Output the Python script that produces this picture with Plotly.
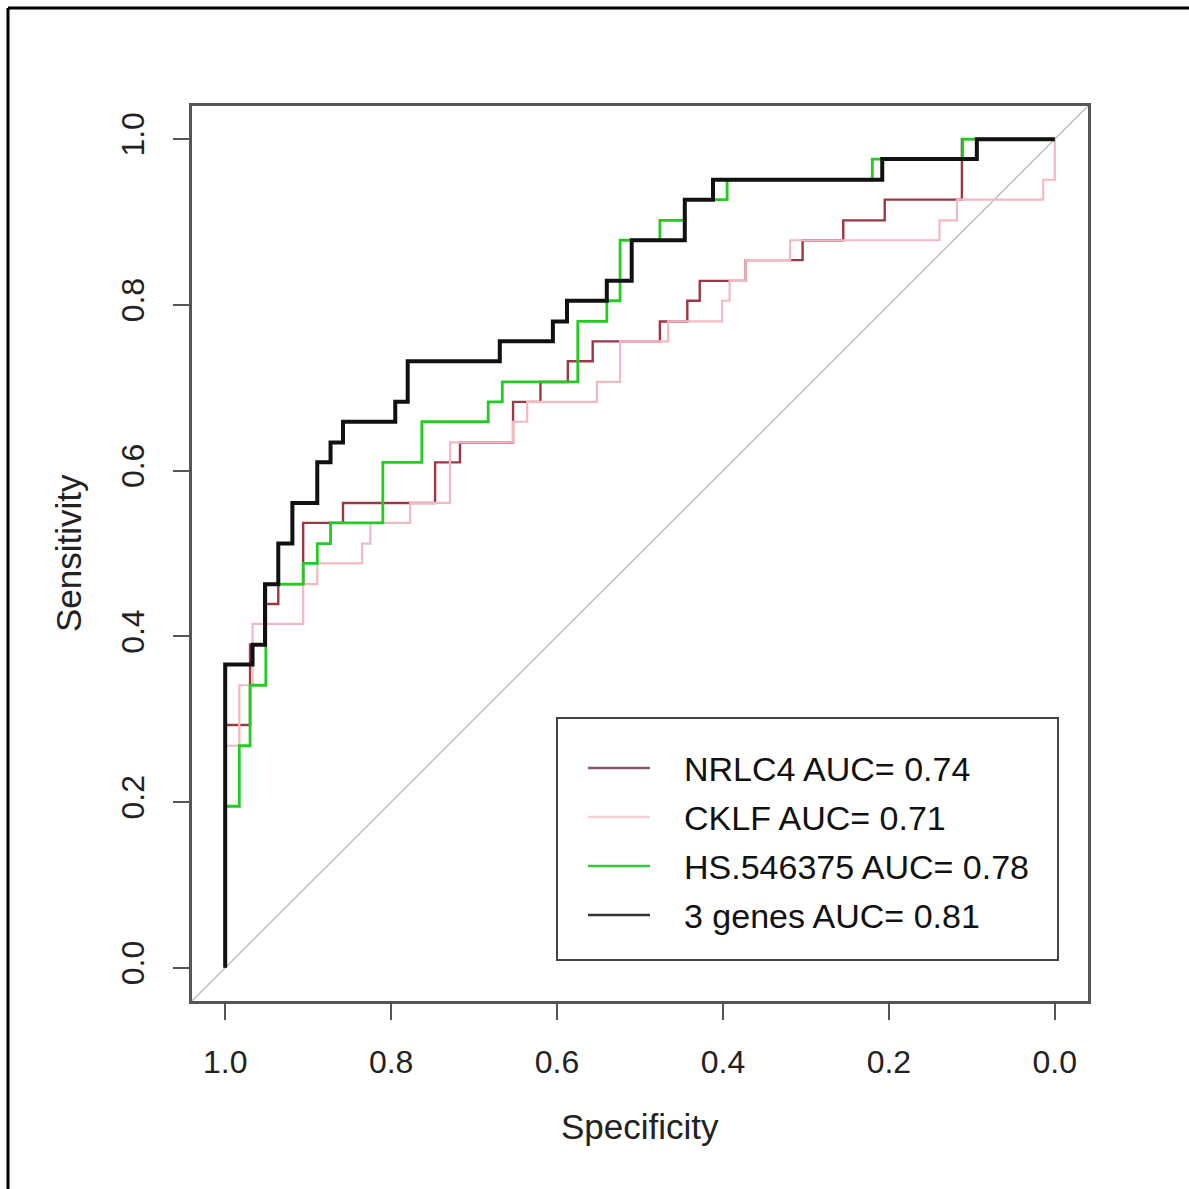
import plotly.graph_objects as go

# ---------------- data ----------------
# Step corners of each ROC curve: specificity after each horizontal run,
# sensitivity after each vertical rise (drawn with 'vh' steps)
nrlc4_spec = [1.0, 0.970, 0.952, 0.936, 0.906, 0.858, 0.747, 0.717, 0.653, 0.620, 0.587,
              0.557, 0.476, 0.443, 0.428, 0.373, 0.304, 0.255, 0.205, 0.112, 0.0]
nrlc4_sens = [0.0, 0.293, 0.390, 0.439, 0.463, 0.537, 0.561, 0.610, 0.634, 0.683, 0.707,
              0.732, 0.756, 0.780, 0.805, 0.829, 0.854, 0.878, 0.902, 0.927, 1.0]

cklf_spec = [1.0, 0.983, 0.967, 0.906, 0.889, 0.835, 0.825, 0.777, 0.729, 0.653, 0.636,
             0.552, 0.524, 0.466, 0.401, 0.392, 0.373, 0.319, 0.139, 0.118, 0.014, 0.0, 0.0]
cklf_sens = [0.0, 0.268, 0.341, 0.415, 0.463, 0.488, 0.512, 0.537, 0.561, 0.634, 0.659,
             0.683, 0.707, 0.756, 0.780, 0.805, 0.829, 0.854, 0.878, 0.902, 0.927, 0.951, 1.0]

hs_spec = [1.0, 0.983, 0.970, 0.951, 0.906, 0.889, 0.873, 0.810, 0.763, 0.683, 0.666,
           0.575, 0.540, 0.524, 0.476, 0.446, 0.395, 0.220, 0.111, 0.0]
hs_sens = [0.0, 0.195, 0.268, 0.341, 0.463, 0.488, 0.512, 0.537, 0.610, 0.659, 0.683,
           0.707, 0.780, 0.805, 0.878, 0.902, 0.927, 0.951, 0.976, 1.0]

genes3_spec = [1.0, 0.967, 0.952, 0.936, 0.919, 0.889, 0.873, 0.858, 0.795, 0.780, 0.669,
               0.605, 0.588, 0.540, 0.510, 0.446, 0.412, 0.208, 0.094, 0.0]
genes3_sens = [0.0, 0.366, 0.390, 0.463, 0.512, 0.561, 0.610, 0.634, 0.659, 0.683, 0.732,
               0.756, 0.780, 0.805, 0.829, 0.878, 0.927, 0.951, 0.976, 1.0]

legend_labels = ["NRLC4 AUC= 0.74", "CKLF AUC= 0.71", "HS.546375 AUC= 0.78", "3 genes AUC= 0.81"]
tick_vals = [0.0, 0.2, 0.4, 0.6, 0.8, 1.0]
tick_text = ["0.0", "0.2", "0.4", "0.6", "0.8", "1.0"]

# ---------------- styling ----------------
W = H = 1189
L, R, T, B = 192, 1088, 106, 1001          # plot-area pixel box
AX_MIN, AX_MAX = -0.04, 1.04
FONT = "Liberation Sans, Arial, sans-serif"
colors = ["#9a3846", "#f3b9c2", "#22cc22", "#111111"]
legend_colors = ["#8a5a62", "#f0d0d4", "#3cc43c", "#333333"]
widths = [2.4, 2.2, 2.8, 4.0]

def px(xp):   # pixel x -> paper x
    return (xp - L) / (R - L)

def py(yp):   # pixel y -> paper y
    return (B - yp) / (B - T)

series = [(nrlc4_spec, nrlc4_sens), (cklf_spec, cklf_sens),
          (hs_spec, hs_sens), (genes3_spec, genes3_sens)]

fig = go.Figure()

# chance diagonal (sens = 1 - spec across the whole axis range)
fig.add_trace(go.Scatter(x=[AX_MAX, AX_MIN], y=[1 - AX_MAX, 1 - AX_MIN], mode="lines",
                         line=dict(color="#bdbdbd", width=1.4), showlegend=False,
                         hoverinfo="skip"))

for (xs, ys), c, w, name in zip(series, colors, widths, legend_labels):
    fig.add_trace(go.Scatter(x=xs, y=ys, mode="lines", name=name,
                             line=dict(color=c, width=w, shape="vh"),
                             showlegend=False))

axis_common = dict(autorange=False, showgrid=False, zeroline=False,
                   showline=True, mirror=True, linecolor="#555555", linewidth=2.5,
                   ticks="outside", ticklen=16, tickwidth=2, tickcolor="#555555",
                   tickvals=tick_vals, ticktext=tick_text,
                   tickfont=dict(family=FONT, size=32, color="#222222"))

xaxis = dict(axis_common)
xaxis.update(range=[AX_MAX, AX_MIN], ticklabelstandoff=15)
yaxis = dict(axis_common)
yaxis.update(range=[AX_MIN, AX_MAX], tickangle=-90, ticklabelstandoff=16)

shapes = []
annotations = []

# outer frame (left and top edges visible)
shapes.append(dict(type="line", xref="paper", yref="paper", x0=px(8), x1=px(8),
                   y0=py(8), y1=py(1189), line=dict(color="black", width=3)))
shapes.append(dict(type="line", xref="paper", yref="paper", x0=px(8), x1=px(1189),
                   y0=py(8), y1=py(8), line=dict(color="black", width=3)))

# legend box
shapes.append(dict(type="rect", xref="paper", yref="paper", x0=px(557), x1=px(1058),
                   y0=py(960), y1=py(718), line=dict(color="#444444", width=2),
                   fillcolor="white", layer="above"))
legend_rows = [768, 817, 866, 915]
for yrow, lab, lc in zip(legend_rows, legend_labels, legend_colors):
    shapes.append(dict(type="line", xref="paper", yref="paper", x0=px(588), x1=px(650),
                       y0=py(yrow), y1=py(yrow), line=dict(color=lc, width=2.5),
                       layer="above"))
    annotations.append(dict(text=lab, xref="paper", yref="paper", x=px(682), y=py(yrow + 1),
                            xanchor="left", yanchor="middle", showarrow=False,
                            font=dict(family=FONT, size=34, color="#111111")))

# axis titles
annotations.append(dict(text="Specificity", xref="paper", yref="paper", x=px(640),
                        y=py(1126), xanchor="center", yanchor="middle", showarrow=False,
                        font=dict(family=FONT, size=35, color="#222222")))
annotations.append(dict(text="Sensitivity", xref="paper", yref="paper", x=px(68),
                        y=py(553), xanchor="center", yanchor="middle", showarrow=False,
                        textangle=-90, font=dict(family=FONT, size=35, color="#222222")))

fig.update_layout(width=W, height=H, margin=dict(l=L, r=W - R, t=T, b=H - B),
                  paper_bgcolor="white", plot_bgcolor="white",
                  xaxis=xaxis, yaxis=yaxis, shapes=shapes, annotations=annotations,
                  showlegend=False)

fig.write_html("out.html")
